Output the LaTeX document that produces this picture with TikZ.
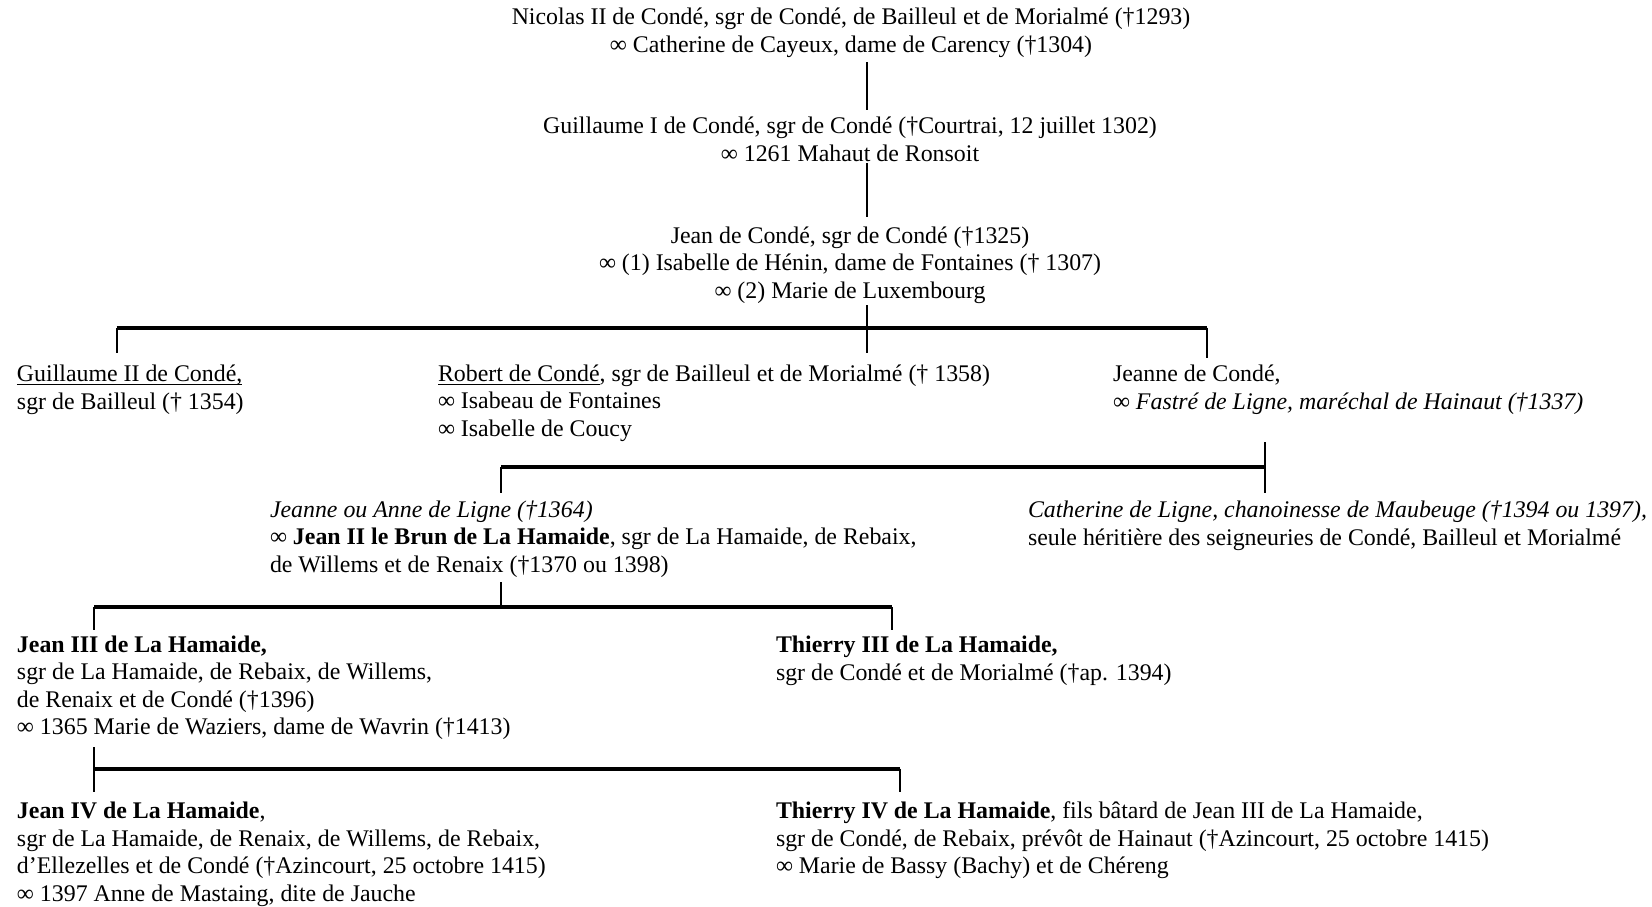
\documentclass[tikz,border=0pt]{standalone}
\usepackage{fontspec}
\setmainfont{Liberation Serif}
\usepackage{tikz}
\usetikzlibrary{positioning, calc}

\tikzset{
  person/.style={anchor=base west, align=left, inner sep=0pt, outer sep=0pt,
    font=\fontsize{11.93}{13.7}\selectfont},
  headperson/.style={person, anchor=base, align=center},
  famline/.style={line width=1pt},
  sibbar/.style={line width=2pt}
}

\begin{document}
\begin{tikzpicture}[x=0.5pt, y=-0.5pt]
\useasboundingbox (0,0) rectangle (1652,906);

% Ancestors (base = last line)
\node[headperson] (nicolas) at (851,52)
  {Nicolas II de Condé, sgr de Condé, de Bailleul et de Morialmé (†1293)\\
   ∞ Catherine de Cayeux, dame de Carency (†1304)};
\node[headperson] (guillaume) at (850,161)
  {Guillaume I de Condé, sgr de Condé (†Courtrai, 12 juillet 1302)\\
   ∞ 1261 Mahaut de Ronsoit};
\node[headperson] (jean) at (850,298)
  {Jean de Condé, sgr de Condé (†1325)\\
   ∞ (1) Isabelle de Hénin, dame de Fontaines († 1307)\\
   ∞ (2) Marie de Luxembourg};

% Children of Jean
\node[person] (guillaumeii) at (17,409)
  {\underline{Guillaume II de Condé\smash{,}}\\ sgr de Bailleul († 1354)};
\node[person] (robert) at (438,436)
  {\underline{Robert de Condé}, sgr de Bailleul et de Morialmé († 1358)\\
   ∞ Isabeau de Fontaines\\
   ∞ Isabelle de Coucy};
\node[person] (jeanne) at (1113,409)
  {Jeanne de Condé,\\ ∞ \textit{Fastré de Ligne, maréchal de Hainaut (†1337)}};

% Ligne
\node[person] (anne) at (270,572)
  {\textit{Jeanne ou Anne de Ligne (†1364)}\\
   ∞ \textbf{Jean II le Brun de La Hamaide}, sgr de La Hamaide, de Rebaix,\\
   de Willems et de Renaix (†1370 ou 1398)};
\node[person] (catherine) at (1028,545)
  {\textit{Catherine de Ligne, chanoinesse de Maubeuge (†1394 ou 1397),}\\
   seule héritière des seigneuries de Condé, Bailleul et Morialmé};

% La Hamaide
\node[person] (jeaniii) at (17,734.5)
  {\textbf{Jean III de La Hamaide,}\\
   sgr de La Hamaide, de Rebaix, de Willems,\\
   de Renaix et de Condé (†1396)\\
   ∞ 1365 Marie de Waziers, dame de Wavrin (†1413)};
\node[person] (thierryiii) at (776,680)
  {\textbf{Thierry III de La Hamaide,}\\
   sgr de Condé et de Morialmé (†ap. 1394)};
\node[person] (jeaniv) at (17,901)
  {\textbf{Jean IV de La Hamaide},\\
   sgr de La Hamaide, de Renaix, de Willems, de Rebaix,\\
   d’Ellezelles et de Condé (†Azincourt, 25 octobre 1415)\\
   ∞ 1397 Anne de Mastaing, dite de Jauche};
\node[person] (thierryiv) at (776,873.5)
  {\textbf{Thierry IV de La Hamaide}, fils bâtard de Jean III de La Hamaide,\\
   sgr de Condé, de Rebaix, prévôt de Hainaut (†Azincourt, 25 octobre 1415)\\
   ∞ Marie de Bassy (Bachy) et de Chéreng};

% Junction points
\coordinate (trunk) at (866.5,327.5);
\coordinate (bar1l) at (116.5,327.5);
\coordinate (bar1r) at (1206.5,327.5);
\coordinate (bar2l) at (501,467);
\coordinate (bar2r) at (1265,467);
\coordinate (bar3m) at (501,607);
\coordinate (bar3l) at (94,607);
\coordinate (bar3r) at (892,607);
\coordinate (bar4l) at (93.5,768.5);
\coordinate (bar4r) at (900,768.5);

% Lines
\draw[famline] ([yshift=-2.5pt]nicolas.south -| trunk) -- ([yshift=3.5pt]guillaume.north -| trunk);
\draw[famline] ([yshift=-1pt]guillaume.south -| trunk) -- ([yshift=4.75pt]jean.north -| trunk);
\draw[famline] ([yshift=-1pt]jean.south -| trunk) -- ([yshift=6pt]robert.north -| trunk);
\draw[sibbar] (bar1l) -- (bar1r);
\draw[famline] (bar1l) -- ([yshift=6pt]guillaumeii.north -| bar1l);
\draw[famline] (bar1r) -- ([yshift=3.5pt]jeanne.north -| bar1r);

\draw[famline] ([yshift=-14pt]jeanne.south -| bar2r) -- ([yshift=4pt]catherine.north -| bar2r);
\draw[sibbar] (bar2l) -- (bar2r);
\draw[famline] (bar2l) -- ([yshift=3.75pt]anne.north -| bar2l);

\draw[famline] ([yshift=-2.5pt]anne.south -| bar3m) -- (bar3m);
\draw[sibbar] (bar3l) -- (bar3r);
\draw[famline] (bar3l) -- ([yshift=3pt]jeaniii.north -| bar3l);
\draw[famline] (bar3r) -- ([yshift=3pt]thierryiii.north -| bar3r);

\draw[famline] ([yshift=-3.75pt]jeaniii.south -| bar4l) -- (bar4l);
\draw[sibbar] (bar4l) -- (bar4r);
\draw[famline] (bar4l) -- ([yshift=5pt]jeaniv.north -| bar4l);
\draw[famline] (bar4r) -- ([yshift=5pt]thierryiv.north -| bar4r);
\end{tikzpicture}
\end{document}
